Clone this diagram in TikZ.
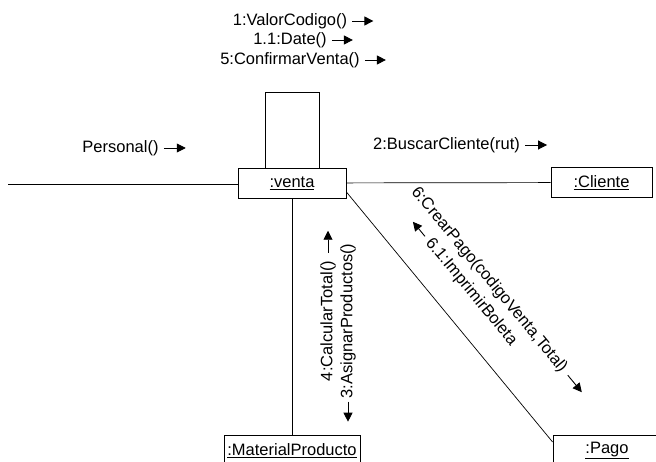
\documentclass[tikz,border=0pt]{standalone}
\usepackage{fontspec}
\setmainfont{Liberation Sans}
\usetikzlibrary{arrows.meta}
\begin{document}
\begin{tikzpicture}[x=1pt,y=-1pt,
  obj/.style={draw, line width=0.8pt, minimum height=30pt, inner sep=0pt, font=\fontsize{16.5}{19}\selectfont},
  lbl/.style={inner sep=0pt, font=\fontsize{16.5}{19}\selectfont},
  conn/.style={line width=0.7pt},
  msg/.style={line width=0.9pt, -{Triangle[length=9pt,width=9pt]}}]
\useasboundingbox (0,0) rectangle (656,462);
% objects
\node[obj, minimum width=108pt] (venta) at (292,183) {\underline{:venta}};
\node[obj, minimum width=101pt] (cliente) at (601.5,182.5) {\underline{:Cliente}};
\node[obj, minimum width=136pt, anchor=north] (mat) at (292,435) {\underline{:MaterialProducto}};
\node[obj, minimum width=108pt, anchor=north] (pago) at (607,435) {\underline{:Pago}};
% links
\coordinate (lend) at (8,184);
\draw[conn] (lend) -- (lend -| venta.west);
\draw[conn] (venta) -- (cliente);
\draw[conn] (venta) -- (mat);
\draw[conn] ([yshift=-9pt]venta.east) -- ([yshift=-7pt]pago.north west);
\draw[conn] ([xshift=-27pt]venta.north) -- ++(0,-75) -| ([xshift=27pt]venta.north);
% messages
\node[lbl] (m1) at (290,21) {1:ValorCodigo()};
\draw[msg] ([xshift=5pt]m1.east) -- ++(21,0);
\node[lbl] (m11) at (290,40) {1.1:Date()};
\draw[msg] ([xshift=5pt]m11.east) -- ++(21,0);
\node[lbl] (m5) at (290,60) {5:ConfirmarVenta()};
\draw[msg] ([xshift=5pt]m5.east) -- ++(21,0);
\node[lbl] (mp) at (120.5,148) {Personal()};
\draw[msg] ([xshift=5pt]mp.east) -- ++(22,0);
\node[lbl] (m2) at (446.5,145) {2:BuscarCliente(rut)};
\draw[msg] ([xshift=5pt]m2.east) -- ++(22,0);
\node[lbl, rotate=90] (m4) at (328,321) {4:CalcularTotal()};
\draw[msg] ([yshift=8pt]m4.east) -- ++(0,-22);
\node[lbl, rotate=90] (m3) at (348,321) {3:AsignarProductos()};
\draw[msg] ([yshift=-3pt]m3.west) -- ++(0,20);
\node[lbl, rotate=-50.4] (m6) at (489,280) {6:CrearPago(codigoVenta,Total)};
\draw[msg] ([shift={(50.4:6)}]m6.east) -- ++(50.4:22);
\node[lbl, rotate=-50.4] (m61) at (471,292) {6.1:ImprimirBoleta};
\draw[msg] ([shift={(50.4:-5)}]m61.west) -- ++(50.4:-19);
\end{tikzpicture}
\end{document}
